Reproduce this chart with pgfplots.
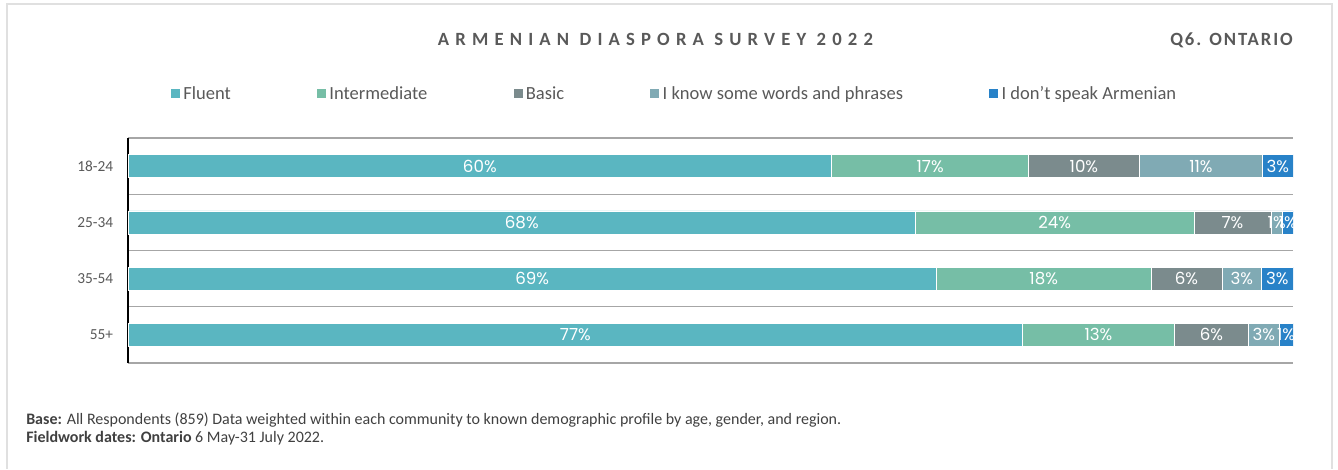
\documentclass[border=0pt]{standalone}
\usepackage{fontspec}
\setmainfont{Carlito}
\newfontfamily\barfont{Poppins}
\newfontfamily\titlefont[LetterSpace=33]{Carlito}
\newfontfamily\qfont[LetterSpace=10]{Carlito}
\usepackage{pgfplots}
\usepackage{pgfplotstable}
\pgfplotsset{compat=1.18}
\definecolor{cFluent}{RGB}{90,182,193}
\definecolor{cInter}{RGB}{118,190,166}
\definecolor{cBasic}{RGB}{123,139,141}
\definecolor{cWords}{RGB}{128,170,180}
\definecolor{cDont}{RGB}{40,130,200}
\definecolor{txt}{RGB}{89,89,89}
\definecolor{foot}{RGB}{64,64,64}
\definecolor{gridc}{RGB}{166,166,166}
\definecolor{framec}{RGB}{224,224,224}

\pgfplotstableread{
y fluent inter basic words dont
3 60.4 16.9 9.5 10.6 2.6
2 67.6 23.9 6.6 1.0 0.9
1 69.4 18.4 6.1 3.4 2.7
0 76.8 13.0 6.4 2.6 1.2
}\bars

\pgfplotstableread{
x y lab
30.2 3 60
68.85 3 17
82.05 3 10
92.1 3 11
98.7 3 3
33.8 2 68
79.55 2 24
94.8 2 7
98.6 2 1
99.55 2 1
34.7 1 69
78.6 1 18
90.85 1 6
95.6 1 3
98.65 1 3
38.4 0 77
83.3 0 13
93.0 0 6
97.5 0 3
99.4 0 1
}\labels

\pgfplotsset{
  sq legend/.style={legend image code/.code={\fill[##1] (0pt,-1.5pt) rectangle (7.5pt,6pt);}},
}

\begin{document}
\begin{tikzpicture}
\path[use as bounding box] (0pt,0pt) rectangle (1003.5pt,351.75pt);
\draw[framec, line width=1.5pt] (5.25pt,0pt) -- (5.25pt,348.75pt) -- (999pt,348.75pt) -- (999pt,0pt);

\node[anchor=base, text=txt, font=\titlefont\bfseries\fontsize{14}{16}\selectfont] at (491.6pt,318pt) {ARMENIAN DIASPORA SURVEY 2022};
\node[anchor=base east, text=txt, font=\qfont\bfseries\fontsize{14}{16}\selectfont, inner sep=0pt] at (969.75pt,318pt) {Q6. ONTARIO};

\begin{axis}[
  at={(96pt,79.5pt)}, anchor=south west,
  scale only axis, width=873.75pt, height=168.75pt,
  xbar stacked, bar width=17.25pt,
  xmin=0, xmax=100, ymin=-0.5, ymax=3.5,
  axis x line=none, axis y line*=left,
  y axis line style={black, line width=1.2pt, -},
  ytick={0,1,2,3}, yticklabels={55+,35-54,25-34,18-24},
  major tick length=0pt, minor tick length=0pt,
  minor ytick={-0.5,0.5,1.5,2.5,3.5},
  yminorgrids=true, minor grid style={gridc, line width=1pt},
  yticklabel style={font=\fontsize{11.5}{13}\selectfont, text=txt, inner sep=0pt, xshift=-11pt},
  legend columns=5,
  legend style={at={(0.036,1.1867)}, anchor=west, draw=none, fill=none, inner sep=0pt,
    font=\fontsize{13.9}{16}\selectfont, text=txt,
    nodes={inner sep=2pt, text height=1.5ex, text depth=0.3ex},
    /tikz/every even column/.append style={column sep=62pt}},
]
\addplot[sq legend, fill=cFluent, draw=white, line width=0.4pt] table[x=fluent, y=y] {\bars};
\addplot[sq legend, fill=cInter, draw=white, line width=0.4pt] table[x=inter, y=y] {\bars};
\addplot[sq legend, fill=cBasic, draw=white, line width=0.4pt] table[x=basic, y=y] {\bars};
\addplot[sq legend, fill=cWords, draw=white, line width=0.4pt] table[x=words, y=y] {\bars};
\addplot[sq legend, fill=cDont, draw=white, line width=0.4pt] table[x=dont, y=y] {\bars};
\legend{Fluent, Intermediate, Basic, I know some words and phrases, I don’t speak Armenian}
\end{axis}

\begin{axis}[
  at={(96pt,79.5pt)}, anchor=south west,
  scale only axis, width=873.75pt, height=168.75pt,
  xmin=0, xmax=100, ymin=-0.5, ymax=3.5,
  hide axis, clip=false,
]
\addplot[only marks, mark=none,
  nodes near coords={\pgfplotspointmeta\%}, point meta=explicit symbolic,
  every node near coord/.style={anchor=center, font=\barfont\fontsize{12.5}{14}\selectfont, text=white, inner sep=0pt}]
  table[x=x, y=y, meta=lab] {\labels};
\end{axis}

\node[anchor=base west, inner sep=0pt, text=foot, font=\fontsize{12}{14}\selectfont] at (19.5pt,33.75pt) {\textbf{Base:} All Respondents (859) Data weighted within each community to known demographic profile by age, gender, and region.};
\node[anchor=base west, inner sep=0pt, text=foot, font=\fontsize{12}{14}\selectfont] at (19.5pt,20.25pt) {\textbf{Fieldwork dates: Ontario} 6 May-31 July 2022.};
\end{tikzpicture}
\end{document}
